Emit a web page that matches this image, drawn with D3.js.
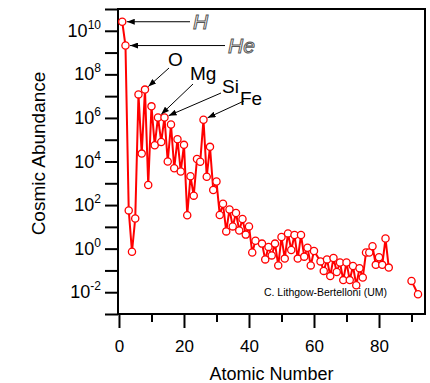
<!DOCTYPE html>
<html>
<head>
<meta charset="utf-8">
<script src="https://cdn.jsdelivr.net/npm/d3@7"></script>
<style>
  body { margin: 0; background: #fff; }
  svg { display: block; font-family: "Liberation Sans", Arial, Helvetica, sans-serif; }
</style>
</head>
<body>
<svg id="chart" width="430" height="383"></svg>
<script>
// atomic number and cosmic abundance (Si = 1e6)
const atomicNumbers = [
  1, 2, 3, 4, 5, 6, 7, 8, 9, 10, 11, 12, 13, 14, 15, 16, 17, 18, 19, 20,
  21, 22, 23, 24, 25, 26, 27, 28, 29, 30, 31, 32, 33, 34, 35, 36, 37, 38, 39, 40,
  41, 42, 44, 45, 46, 47, 48, 49, 50, 51, 52, 53, 54, 55, 56, 57, 58, 59, 60,
  62, 63, 64, 65, 66, 67, 68, 69, 70, 71, 72, 73, 74, 75, 76, 77, 78, 79, 80,
  81, 82, 83, 90, 92
];
const abundances = [
  2.6e10, 2.1e9, 57, 0.72, 24, 1.2e7, 2.3e4, 2.0e7, 830, 3.4e6, 5.6e4, 1.05e6, 7.9e4, 1.05e6, 1.0e4, 5.0e5, 4.9e3, 1.05e5, 3.5e3, 5.8e4,
  34, 2.1e3, 270, 1.3e4, 9.8e3, 8.3e5, 2.0e3, 4.7e4, 490, 1.2e3, 35, 115, 6.2, 63, 10.5, 43, 6.8, 23, 4.4, 10.5,
  0.66, 2.3, 1.7, 0.32, 1.2, 0.49, 1.7, 0.17, 3.4, 0.35, 5.0, 0.87, 4.2, 0.35, 4.2, 0.43, 1.1, 0.17, 0.78,
  0.26, 0.095, 0.32, 0.055, 0.37, 0.085, 0.23, 0.036, 0.23, 0.036, 0.16, 0.021, 0.125, 0.047, 0.66, 0.66, 1.3, 0.18, 0.4,
  0.18, 2.9, 0.135, 0.033, 0.0081
];
const xMajorTicks = [0, 20, 40, 60, 80];
const xMinorTicks = [10, 30, 50, 70, 90];
const yExponents = [-3, -2, -1, 0, 1, 2, 3, 4, 5, 6, 7, 8, 9, 10, 11];
const yLabelExponents = [-2, 0, 2, 4, 6, 8, 10];

const noteLabels = ["H", "He", "O", "Mg", "Si", "Fe"];
const noteTargets = [1, 2, 8, 12, 14, 26];

const mLeft = 118, mRight = 425, mTop = 9, mBottom = 314;
const red = "#f00";

const svg = d3.select("#chart");

const x = d3.scaleLinear().domain([-0.3, 94.15]).range([mLeft, mRight]);
const y = d3.scaleLog().domain([1e-3, 1e11]).range([mBottom, mTop]);

const data = atomicNumbers.map((z, i) => ({ z: z, v: abundances[i] }));

// frame
svg.append("rect")
  .attr("x", mLeft).attr("y", mTop)
  .attr("width", mRight - mLeft).attr("height", mBottom - mTop)
  .attr("fill", "none").attr("stroke", "#000").attr("stroke-width", 2);

// x axis
const xMajor = svg.append("g")
  .attr("transform", "translate(0," + mBottom + ")")
  .call(d3.axisBottom(x).tickValues(xMajorTicks).tickSize(14).tickPadding(12).tickFormat(d3.format("d")));
const xMinor = svg.append("g")
  .attr("transform", "translate(0," + mBottom + ")")
  .call(d3.axisBottom(x).tickValues(xMinorTicks).tickSize(8).tickFormat(""));

// y axis
const yAxis = svg.append("g")
  .attr("transform", "translate(" + mLeft + ",0)")
  .call(d3.axisLeft(y).tickValues(yExponents.map(e => Math.pow(10, e))).tickSize(13).tickFormat(""));

[xMajor, xMinor, yAxis].forEach(g => {
  g.select(".domain").remove();
  g.selectAll(".tick line").attr("stroke", "#000").attr("stroke-width", 2);
});
xMajor.selectAll(".tick text")
  .attr("font-size", 17).attr("fill", "#000")
  .attr("font-family", "Liberation Sans, Arial, sans-serif");

const yLab = svg.append("g");
yLabelExponents.forEach(e => {
  const t = yLab.append("text")
    .attr("x", mLeft - 17)
    .attr("y", y(Math.pow(10, e)) + 6)
    .attr("text-anchor", "end")
    .attr("font-size", 18);
  t.append("tspan").text("10");
  t.append("tspan").attr("dy", -8).attr("font-size", 12).text(e);
});

// axis titles
svg.append("text")
  .attr("x", (mLeft + mRight) / 2).attr("y", 380)
  .attr("text-anchor", "middle").attr("font-size", 18)
  .text("Atomic Number");
svg.append("text")
  .attr("transform", "translate(45," + ((mTop + mBottom) / 2 - 8) + ")rotate(-90)")
  .attr("text-anchor", "middle").attr("font-size", 19)
  .text("Cosmic Abundance");

// series line, broken where elements are missing in a row
const runs = [];
data.forEach((d, i) => {
  if (i === 0 || d.z - data[i - 1].z > 2) runs.push([]);
  runs[runs.length - 1].push(d);
});
const line = d3.line().x(d => x(d.z)).y(d => y(d.v));
svg.append("g").selectAll("path")
  .data(runs.filter(r => r.length > 1))
  .enter().append("path")
  .attr("d", line)
  .attr("fill", "none").attr("stroke", red).attr("stroke-width", 2)
  .attr("stroke-linejoin", "round");

svg.append("g").selectAll("circle")
  .data(data)
  .enter().append("circle")
  .attr("cx", d => x(d.z)).attr("cy", d => y(d.v))
  .attr("r", 3.6)
  .attr("fill", "#fff").attr("stroke", red).attr("stroke-width", 1.3);

// annotations
svg.append("defs").append("marker")
  .attr("id", "arrow")
  .attr("viewBox", "0 0 8 6")
  .attr("refX", 8).attr("refY", 3)
  .attr("markerWidth", 8).attr("markerHeight", 6)
  .attr("markerUnits", "userSpaceOnUse")
  .attr("orient", "auto")
  .append("path").attr("d", "M0,0L8,3L0,6Z").attr("fill", "#000");

// label layout: text position, arrow start
const noteLayout = {
  H:  { tx: 193, ty: null, ax: 190, ay: null, outline: true },
  He: { tx: 228, ty: null, ax: 225, ay: null, outline: true },
  O:  { tx: 168, ty: 66, ax: 169, ay: 68 },
  Mg: { tx: 190, ty: 80, ax: 193, ay: 84 },
  Si: { tx: 222, ty: 93, ax: 221, ay: 93 },
  Fe: { tx: 240, ty: 105, ax: 244, ay: 101 }
};

const notes = svg.append("g");
noteLabels.forEach((lab, i) => {
  const idx = atomicNumbers.indexOf(noteTargets[i]);
  const px = x(atomicNumbers[idx]), py = y(abundances[idx]);
  const L = noteLayout[lab];
  const ax = L.ax, ay = L.ay == null ? py : L.ay;
  const dx = px - ax, dy = py - ay, len = Math.hypot(dx, dy);
  const ex = px - dx / len * 4.5, ey = py - dy / len * 4.5;
  notes.append("line")
    .attr("x1", ax).attr("y1", ay).attr("x2", ex).attr("y2", ey)
    .attr("stroke", "#000").attr("stroke-width", 1)
    .attr("marker-end", "url(#arrow)");
  const t = notes.append("text")
    .attr("x", L.tx)
    .attr("y", L.ty == null ? py + 7.5 : L.ty)
    .text(lab);
  if (L.outline) {
    t.attr("font-size", 21).attr("font-style", "italic")
      .attr("fill", "#fff").attr("stroke", "#555").attr("stroke-width", 1);
  } else {
    t.attr("font-size", 19).attr("fill", "#000");
  }
});

svg.append("text")
  .attr("x", 387).attr("y", 296)
  .attr("text-anchor", "end").attr("font-size", 10.5)
  .text("C. Lithgow-Bertelloni (UM)");
</script>
</body>
</html>
